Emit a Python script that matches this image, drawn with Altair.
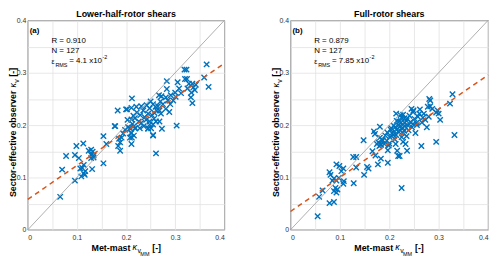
import altair as alt
import pandas as pd

FONT = "Liberation Sans"

# ---------------- data ----------------
left_x = [0.364, 0.319, 0.323, 0.320, 0.324, 0.359, 0.283, 0.305, 0.328, 0.335,
          0.342, 0.337, 0.368, 0.283, 0.308, 0.325, 0.340, 0.333, 0.212, 0.267,
          0.272, 0.281, 0.291, 0.301, 0.285, 0.296, 0.312, 0.332, 0.335, 0.231,
          0.221, 0.202, 0.255, 0.260, 0.265, 0.248, 0.268, 0.271, 0.281, 0.288,
          0.245, 0.253, 0.258, 0.229, 0.218, 0.211, 0.241, 0.248, 0.268, 0.213,
          0.204, 0.218, 0.231, 0.245, 0.261, 0.303, 0.211, 0.255, 0.208, 0.194,
          0.186, 0.211, 0.200, 0.203, 0.177, 0.183,
          0.178, 0.198, 0.208, 0.216, 0.219, 0.228, 0.210, 0.216, 0.212, 0.154,
          0.191, 0.211, 0.188, 0.184, 0.113, 0.099, 0.160, 0.188, 0.124, 0.129,
          0.132, 0.129, 0.134, 0.096, 0.078, 0.104, 0.129, 0.134, 0.154, 0.114,
          0.111, 0.107, 0.131, 0.117, 0.114, 0.116, 0.109, 0.096, 0.066, 0.251,
          0.070,
          0.248, 0.255, 0.245, 0.273, 0.255, 0.261,
          0.235, 0.242, 0.250, 0.262, 0.275, 0.226, 0.238, 0.222, 0.257, 0.290,
          0.215, 0.236, 0.270, 0.300]
left_y = [0.316, 0.306, 0.306, 0.288, 0.288, 0.291, 0.284, 0.282, 0.279, 0.279,
          0.277, 0.272, 0.273, 0.269, 0.270, 0.270, 0.267, 0.262, 0.251, 0.257,
          0.255, 0.253, 0.257, 0.254, 0.247, 0.247, 0.261, 0.253, 0.242, 0.236,
          0.235, 0.230, 0.240, 0.235, 0.236, 0.232, 0.228, 0.222, 0.231, 0.225,
          0.222, 0.219, 0.223, 0.219, 0.213, 0.211, 0.210, 0.207, 0.207, 0.202,
          0.196, 0.194, 0.204, 0.194, 0.207, 0.199, 0.185, 0.181, 0.176, 0.184,
          0.174, 0.233, 0.230, 0.210, 0.198, 0.228,
          0.198, 0.191, 0.194, 0.198, 0.194, 0.194, 0.185, 0.180, 0.176, 0.179,
          0.176, 0.164, 0.167, 0.160, 0.165, 0.160, 0.164, 0.151, 0.151, 0.153,
          0.149, 0.143, 0.142, 0.143, 0.141, 0.137, 0.137, 0.138, 0.127, 0.124,
          0.118, 0.117, 0.116, 0.112, 0.108, 0.105, 0.102, 0.094, 0.063, 0.194,
          0.115,
          0.201, 0.201, 0.193, 0.193, 0.180, 0.146,
          0.228, 0.238, 0.245, 0.228, 0.240, 0.207, 0.215, 0.224, 0.212, 0.240,
          0.218, 0.198, 0.245, 0.262]

right_x = [0.328, 0.281, 0.283, 0.323, 0.278, 0.283, 0.287, 0.298, 0.300, 0.295,
           0.303, 0.245, 0.249, 0.248, 0.261, 0.258, 0.268, 0.273, 0.223, 0.228,
           0.231, 0.225, 0.215, 0.220, 0.231, 0.235, 0.248, 0.255, 0.209, 0.221,
           0.238, 0.181, 0.169, 0.171, 0.203, 0.215, 0.218, 0.228, 0.235, 0.225,
           0.208, 0.201, 0.211, 0.148, 0.181, 0.187, 0.178, 0.183, 0.195, 0.200,
           0.228, 0.233, 0.295, 0.332, 0.265, 0.133,
           0.175, 0.183, 0.190, 0.199, 0.183, 0.177, 0.197, 0.155, 0.158, 0.149,
           0.127, 0.133, 0.093, 0.099, 0.107, 0.103, 0.079, 0.081, 0.088, 0.098,
           0.093, 0.108, 0.107, 0.085, 0.128, 0.091, 0.095, 0.088, 0.093, 0.065,
           0.058, 0.079, 0.088, 0.055,
           0.213, 0.216, 0.218, 0.221, 0.236, 0.225,
           0.180, 0.185, 0.192, 0.196, 0.204, 0.206, 0.212, 0.214, 0.219, 0.222,
           0.224, 0.227, 0.230, 0.232, 0.236, 0.239, 0.241, 0.243, 0.246, 0.251,
           0.253, 0.256, 0.262, 0.266, 0.270, 0.276, 0.280, 0.214, 0.166, 0.172,
           0.197]
right_y = [0.259, 0.250, 0.247, 0.241, 0.235, 0.236, 0.231, 0.228, 0.222, 0.224,
           0.210, 0.231, 0.228, 0.225, 0.222, 0.216, 0.214, 0.210, 0.219, 0.220,
           0.213, 0.214, 0.208, 0.207, 0.204, 0.208, 0.202, 0.204, 0.199, 0.197,
           0.199, 0.197, 0.188, 0.183, 0.191, 0.191, 0.188, 0.185, 0.179, 0.177,
           0.181, 0.177, 0.173, 0.171, 0.176, 0.171, 0.167, 0.164, 0.170, 0.165,
           0.168, 0.164, 0.168, 0.181, 0.160, 0.139,
           0.164, 0.162, 0.164, 0.161, 0.136, 0.125, 0.128, 0.120, 0.117, 0.105,
           0.139, 0.119, 0.125, 0.122, 0.117, 0.112, 0.110, 0.105, 0.098, 0.099,
           0.094, 0.093, 0.088, 0.094, 0.089, 0.080, 0.077, 0.074, 0.071, 0.075,
           0.063, 0.051, 0.053, 0.026,
           0.164, 0.151, 0.141, 0.141, 0.151, 0.080,
           0.160, 0.172, 0.180, 0.186, 0.194, 0.185, 0.196, 0.181, 0.200, 0.190,
           0.205, 0.195, 0.189, 0.198, 0.212, 0.190, 0.218, 0.206, 0.196, 0.212,
           0.185, 0.200, 0.230, 0.205, 0.222, 0.196, 0.216, 0.222, 0.150, 0.142,
           0.152]

fit_left = [0.058, 0.65]     # intercept, slope
fit_right = [0.035, 0.652]

panel_titles = ["Lower-half-rotor shears", "Full-rotor shears"]
panel_tags = ["(a)", "(b)"]
r_values = ["0.910", "0.879"]
n_values = ["127", "127"]
rms_values = ["4.1", "7.85"]
grid_values = [0, 0.05, 0.1, 0.15, 0.2, 0.25, 0.3, 0.35, 0.4]
axis_limits = [0, 0.4]

H = 212
XSHAPE = "M-1,-1L1,1M-1,1L1,-1"
BLUE = "#0072BD"
ORANGE = "#D95319"

label_expr = ("round(datum.value*100) % 10 == 0 ? "
              "(datum.value == 0 ? '0' : format(datum.value, '.1f')) : ''")


def txt(text, x, y, size=8, weight="normal", style="normal", align="left",
        angle=0, color="#000000"):
    return alt.Chart(pd.DataFrame({"t": [text]})).mark_text(
        align=align, baseline="alphabetic", fontSize=size, fontWeight=weight,
        fontStyle=style, angle=angle, font=FONT, color=color
    ).encode(text="t:N", x=alt.value(x), y=alt.value(y))


def panel(xs, ys, fit, title, tag, r, n, rms, w):
    sc = alt.Scale(domain=axis_limits, nice=False, zero=False)
    common = dict(values=grid_values, grid=True, title=None, labelExpr=label_expr,
                  tickSize=0, domain=False, labelFontSize=7, labelFont=FONT,
                  labelColor="#333333", gridColor="#e2e2e2", gridWidth=0.8)
    xenc = alt.X("x:Q", scale=sc, axis=alt.Axis(labelPadding=4, **common))
    yenc = alt.Y("y:Q", scale=sc, axis=alt.Axis(labelPadding=2, **common))

    pts = alt.Chart(pd.DataFrame({"x": xs, "y": ys})).mark_point(
        shape=XSHAPE, filled=False, size=30, strokeWidth=1.4, color=BLUE, opacity=1
    ).encode(x=xenc, y=yenc)
    ident = alt.Chart(pd.DataFrame({"x": axis_limits, "y": axis_limits})).mark_line(
        color="#9a9a9a", strokeWidth=0.8
    ).encode(x=xenc, y=yenc)
    fy = [fit[0] + fit[1] * v for v in axis_limits]
    fitl = alt.Chart(pd.DataFrame({"x": axis_limits, "y": fy})).mark_line(
        color=ORANGE, strokeWidth=1.5, strokeDash=[5, 4]
    ).encode(x=xenc, y=yenc)

    rest = "= " + rms + " x10"
    rest_w = 0.0
    widths = {" ": 278, "=": 584, ".": 278, "x": 500}
    for ch in rest:
        rest_w += widths.get(ch, 556) * 8 / 1000.0

    texts = [
        txt(title, w / 2, -3, size=9, weight="bold", align="center"),
        txt(tag, 2, 13, size=8, weight="bold"),
        txt("R = " + r, 24, 23, size=8),
        txt("N = " + n, 24, 33, size=8),
        txt("\u03b5", 24, 44, size=7),
        txt("RMS", 28, 47, size=5.5),
        txt(rest, 42, 43, size=8),
        txt("-2", 42 + rest_w + 0.5, 39, size=5.5),
        # x title
        txt("Met-mast", 104, H + 21, size=9, weight="bold", align="right"),
        txt("\u03ba", 106, H + 20, size=9, style="italic"),
        txt("v", 111, H + 23, size=7),
        txt("MM", 114, H + 27, size=5.5),
        txt("[-]", 126, H + 21, size=9, weight="bold"),
        # y title
        txt("Sector-effective observer", -12, 71, size=9, weight="bold",
            align="right", angle=270),
        txt("\u03ba", -12, 68, size=9, style="italic", angle=270),
        txt("v", -9, 63, size=7, angle=270),
        txt("[-]", -12, 57, size=9, weight="bold", angle=270),
    ]

    return alt.layer(pts, ident, fitl, *texts).properties(width=w, height=H)


left = panel(left_x, left_y, fit_left, panel_titles[0], panel_tags[0],
             r_values[0], n_values[0], rms_values[0], 199)
right = panel(right_x, right_y, fit_right, panel_titles[1], panel_tags[1],
              r_values[1], n_values[1], rms_values[1], 200)

chart = alt.hconcat(left, right, spacing=43).properties(
    padding={"left": 0, "top": 0, "right": 0, "bottom": 0}
).configure_view(stroke="#404040", strokeWidth=0.8)

chart.save("out.html", embed_options={"renderer": "svg", "actions": False})
